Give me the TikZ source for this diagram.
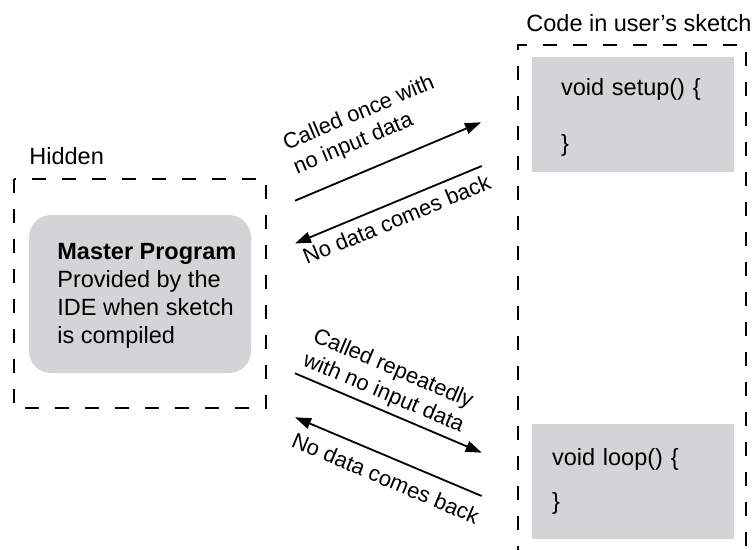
\documentclass[tikz,border=0pt]{standalone}
\usepackage{fontspec}
\setmainfont{Liberation Sans}
\usetikzlibrary{arrows.meta}
\definecolor{boxgray}{RGB}{211,212,213}

\begin{document}
\begin{tikzpicture}[x=0.5pt,y=-0.5pt,
   frame/.style={draw,line width=1pt,dash pattern=on 7pt off 8pt},
   codebox/.style={fill=boxgray,minimum width=101pt,minimum height=57.5pt,
      align=left,inner ysep=0pt,font=\fontsize{11.75}{14}\selectfont},
   lbl/.style={sloped,align=left,inner sep=0pt,font=\fontsize{11}{13}\selectfont},
   title/.style={anchor=base west,inner sep=0pt,font=\fontsize{11.75}{14}\selectfont},
   flow/.style={-{Triangle[length=8pt,width=5.5pt]},line width=0.9pt}]
   \useasboundingbox (0,0) rectangle (753,550);

   \node[title] (hiddenlbl) at (29,165) {Hidden};
   \node[title] (codelbl) at (526,31.7) {Code in user’s sketch};

   \draw[frame] (14,179) rectangle (266,408);
   \draw[frame] (518,560) -- (518,45) -- (746,45) -- (746,560);

   \node[fill=boxgray,rounded corners=11pt,minimum width=111pt,minimum height=79pt]
      (master) at (140,294) {};
   \node[anchor=west,align=left,inner sep=0pt,font=\fontsize{11.75}{14}\selectfont]
      (mastertext) at (57,296)
      {\textbf{Master Program}\\Provided by the\\IDE when sketch\\is compiled};

   \node[codebox,text width=72pt,inner xsep=14.5pt] (setup) at (633,114.5)
      {\rule{0pt}{11.6pt}void setup() \{\\[14pt]\}};
   \node[codebox,text width=81pt,inner xsep=10pt] (loop) at (633,481.5)
      {void loop() \{\\[8pt]\}};

   \coordinate (a1s) at (295,200.7);
   \coordinate (a1e) at (481,122.3);
   \coordinate (a2s) at (481.7,166);
   \coordinate (a2e) at (295,243.5);
   \coordinate (a3s) at (295,373.3);
   \coordinate (a3e) at (481.7,452.7);
   \coordinate (a4s) at (481.7,496);
   \coordinate (a4e) at (295,417.3);

   \path[flow]
   (a1s) edge node[lbl,pos=0.46,above=9pt] {Called once with\\no input data} (a1e)
   (a2s) edge node[lbl,pos=0.49,below=3.8pt] {No data comes back} (a2e)
   (a3s) edge node[lbl,pos=0.44,above=2.4pt] {Called repeatedly\\with no input data} (a3e)
   (a4s) edge node[lbl,pos=0.47,below=6pt] {No data comes back} (a4e);
\end{tikzpicture}
\end{document}
